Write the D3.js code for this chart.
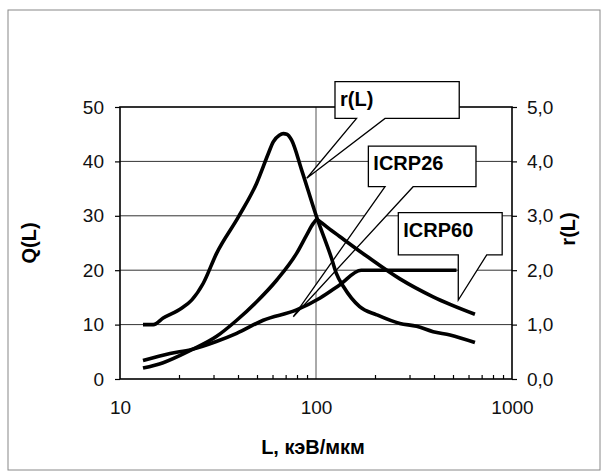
<!DOCTYPE html>
<html>
<head>
<meta charset="utf-8">
<script src="https://cdn.jsdelivr.net/npm/d3@7"></script>
<style>
  body { margin: 0; background: #fff; }
  svg { display: block; font-family: "Liberation Sans", Arial, sans-serif; }
</style>
</head>
<body>
<svg id="chart" width="607" height="476"></svg>
<script>
// r(L), read against the right axis
const rL = [13.1, 14.8, 16.6, 20.6, 23.2, 26.6, 31.1, 40.2, 49.8, 57.2, 60.5, 65, 68.1, 71, 75.1, 84.5, 100.7, 120, 127, 138, 167, 204, 268, 326, 396, 483, 647];
const rVals = [1.0, 1.0, 1.12, 1.30, 1.45, 1.76, 2.31, 2.98, 3.60, 4.15, 4.36, 4.48, 4.51, 4.50, 4.39, 3.84, 2.98, 2.22, 1.94, 1.70, 1.33, 1.18, 1.02, 0.97, 0.87, 0.81, 0.67];

// ICRP60 quality factor
const icrp60L = [13.1, 16.6, 23, 31, 39.4, 49.8, 63.1, 79.6, 89.7, 96.9, 101, 105, 120, 132, 181, 268, 396, 647];
const icrp60Q = [2.0, 3.0, 5.3, 7.8, 10.8, 14.2, 18.2, 23.1, 26.5, 28.6, 29.3, 28.9, 27.3, 26.2, 22.6, 18.4, 15.1, 11.9];

// ICRP26 quality factor
const icrp26L = [13.1, 18, 23, 31, 39.4, 53.8, 79.6, 105, 132, 170, 521];
const icrp26Q = [3.4, 4.7, 5.4, 6.9, 8.4, 10.8, 12.7, 14.9, 17.3, 20, 20];

const qTicks = [0, 10, 20, 30, 40, 50];
const rTicks = [0, 1, 2, 3, 4, 5];
const xTicks = [10, 100, 1000];
const xMinor = [20, 30, 40, 50, 60, 70, 80, 90, 200, 300, 400, 500, 600, 700, 800, 900];

// callouts: box corners, wedge base and tip, all in data units (L, Q)
const callouts = [
  { label: "r(L)", box: [125, 538, 54.65, 47.9], base: [161, 225], tip: [89.7, 36.9] },
  { label: "ICRP26", box: [185, 655, 42.8, 35.35], base: [225, 313], tip: [76.6, 11.45] },
  { label: "ICRP60", box: [263, 891, 30.57, 22.8], base: [532, 743], tip: [532, 14.5] },
];

const svg = d3.select("#chart");

const x = d3.scaleLog().domain([10, 1000]).range([120, 512]);
const yQ = d3.scaleLinear().domain([0, 50]).range([379, 107]);
const yR = d3.scaleLinear().domain([0, 5]).range([379, 107]);

// outer frame of the figure
svg.append("rect")
  .attr("x", 8).attr("y", 10)
  .attr("width", 592).attr("height", 460)
  .attr("fill", "none")
  .attr("stroke", "#888")
  .attr("stroke-width", 1);

// gridlines
svg.append("g")
  .selectAll("line")
  .data(qTicks.filter((d) => d > 0 && d < 50))
  .join("line")
  .attr("x1", x(10)).attr("x2", x(1000))
  .attr("y1", (d) => yQ(d)).attr("y2", (d) => yQ(d))
  .attr("stroke", "#333")
  .attr("stroke-width", 1);

svg.append("line")
  .attr("x1", x(100)).attr("x2", x(100))
  .attr("y1", yQ(0)).attr("y2", yQ(50))
  .attr("stroke", "#555")
  .attr("stroke-width", 1);

// plot frame
svg.append("rect")
  .attr("x", x(10)).attr("y", yQ(50))
  .attr("width", x(1000) - x(10))
  .attr("height", yQ(0) - yQ(50))
  .attr("fill", "none")
  .attr("stroke", "#000")
  .attr("stroke-width", 1.6);

// minor ticks on the log axis, pointing inwards
svg.append("g")
  .attr("transform", `translate(0, ${yQ(0)})`)
  .call(d3.axisBottom(x).tickValues(xMinor).tickSize(-4).tickFormat(""))
  .call((g) => g.select(".domain").remove())
  .selectAll("line")
  .attr("stroke", "#000")
  .attr("stroke-width", 1.2);

// callouts (white filled, above the grid, below the curves)
svg.append("g")
  .selectAll("path")
  .data(callouts)
  .join("path")
  .attr("d", (c) => {
    const x0 = x(c.box[0]), x1 = x(c.box[1]);
    const y0 = yQ(c.box[2]), y1 = yQ(c.box[3]);
    return `M${x0},${y0}H${x1}V${y1}H${x(c.base[1])}L${x(c.tip[0])},${yQ(c.tip[1])}L${x(c.base[0])},${y1}H${x0}Z`;
  })
  .attr("fill", "#fff")
  .attr("stroke", "#000")
  .attr("stroke-width", 1.3)
  .attr("stroke-linejoin", "miter");

svg.append("g")
  .selectAll("text")
  .data(callouts)
  .join("text")
  .attr("x", (c) => x(c.box[0]) + 5)
  .attr("y", (c) => yQ(c.box[2]) + 24)
  .attr("font-size", 20)
  .attr("font-weight", "bold")
  .attr("fill", "#000")
  .text((c) => c.label);

// curves
const curves = [
  rL.map((l, i) => [x(l), yR(rVals[i])]),
  icrp60L.map((l, i) => [x(l), yQ(icrp60Q[i])]),
  icrp26L.map((l, i) => [x(l), yQ(icrp26Q[i])]),
];

const line = d3.line().curve(d3.curveMonotoneX);

svg.append("g")
  .selectAll("path")
  .data(curves)
  .join("path")
  .attr("d", line)
  .attr("fill", "none")
  .attr("stroke", "#000")
  .attr("stroke-width", 3.6)
  .attr("stroke-linejoin", "round");

// axes
const left = svg.append("g")
  .attr("transform", `translate(${x(10)}, 0)`)
  .call(d3.axisLeft(yQ).tickValues(qTicks).tickSize(5).tickPadding(11).tickSizeOuter(0));

const right = svg.append("g")
  .attr("transform", `translate(${x(1000)}, 0)`)
  .call(
    d3.axisRight(yR)
      .tickValues(rTicks)
      .tickSize(5)
      .tickPadding(10)
      .tickSizeOuter(0)
      .tickFormat((d) => d.toFixed(1).replace(".", ","))
  );

const bottom = svg.append("g")
  .attr("transform", `translate(0, ${yQ(0)})`)
  .call(d3.axisBottom(x).tickValues(xTicks).tickSize(0).tickPadding(22).tickFormat(d3.format("d")));

for (const g of [left, right, bottom]) {
  g.select(".domain").remove();
  g.selectAll("line").attr("stroke", "#000").attr("stroke-width", 1.2);
  g.selectAll("text")
    .attr("font-family", "'Liberation Sans', Arial, sans-serif")
    .attr("font-size", 19)
    .attr("fill", "#111");
}

// axis titles
svg.append("text")
  .attr("x", 313).attr("y", 454)
  .attr("text-anchor", "middle")
  .attr("font-size", 20)
  .attr("font-weight", "bold")
  .text("L, кэВ/мкм");

svg.append("text")
  .attr("transform", "translate(29, 243) rotate(-90)")
  .attr("text-anchor", "middle")
  .attr("dy", "0.35em")
  .attr("font-size", 20)
  .attr("font-weight", "bold")
  .text("Q(L)");

svg.append("text")
  .attr("transform", "translate(568, 229) rotate(-90)")
  .attr("text-anchor", "middle")
  .attr("dy", "0.35em")
  .attr("font-size", 20)
  .attr("font-weight", "bold")
  .text("r(L)");
</script>
</body>
</html>
